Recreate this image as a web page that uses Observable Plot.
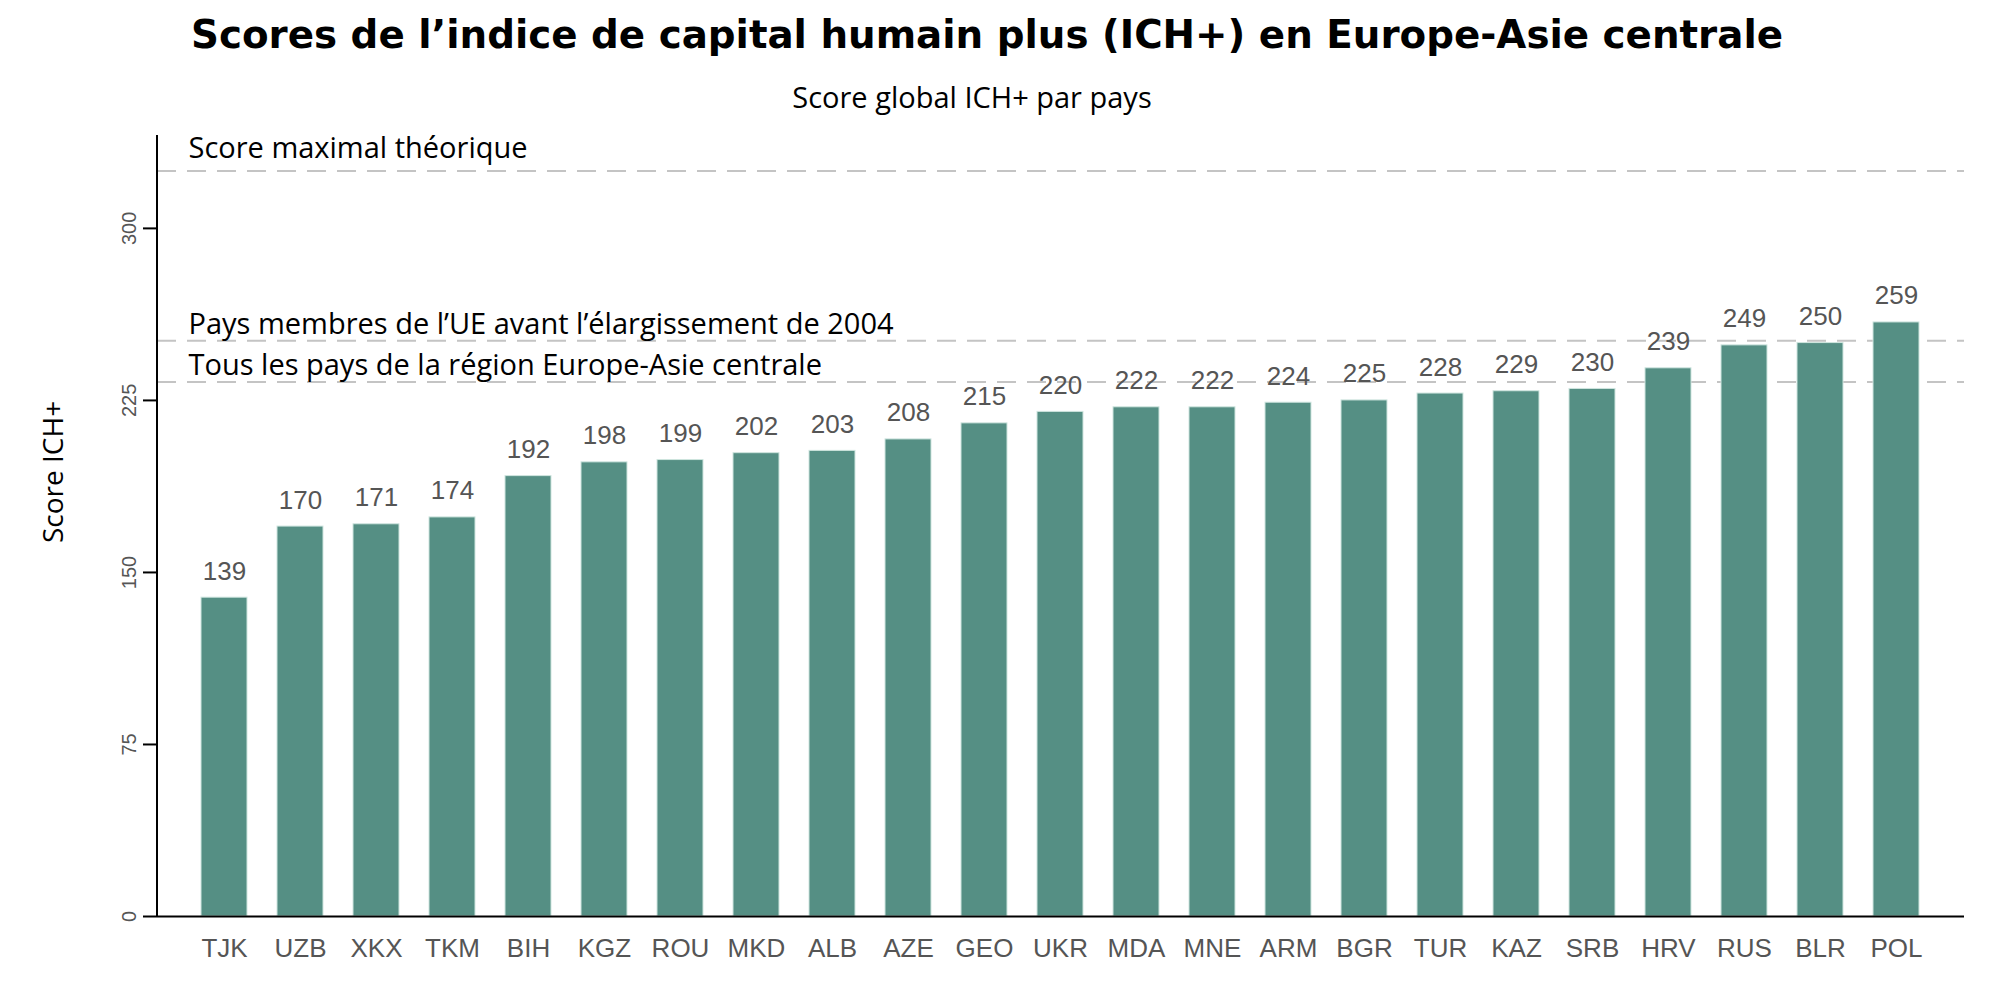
<!DOCTYPE html>
<html>
<head>
<meta charset="utf-8">
<script src="https://cdn.jsdelivr.net/npm/d3@7"></script>
<script src="https://cdn.jsdelivr.net/npm/@observablehq/plot@0.6"></script>
<style>
  html, body { margin: 0; padding: 0; background: #fff; }
  #wrap { position: relative; width: 2000px; height: 1000px; }
  #title { position: absolute; left: 0; top: 15px; width: 1974px; text-align: center;
    font-family: "DejaVu Sans", sans-serif; font-weight: bold;
    font-size: 38.8px; line-height: 40px; color: #000; white-space: nowrap; }
  #subtitle { position: absolute; left: 0; top: 83px; width: 1944px; text-align: center;
    font-family: "Open Sans", sans-serif; font-size: 29px; line-height: 27px; color: #000; white-space: nowrap; }
  #chart { position: absolute; left: 0; top: 0; }
</style>
</head>
<body>
<div id="wrap">
  <div id="chart"></div>
  <div id="title">Scores de l’indice de capital humain plus (ICH+) en Europe-Asie centrale</div>
  <div id="subtitle">Score global ICH+ par pays</div>
</div>
<script>
const countries = ["TJK","UZB","XKX","TKM","BIH","KGZ","ROU","MKD","ALB","AZE","GEO","UKR","MDA","MNE","ARM","BGR","TUR","KAZ","SRB","HRV","RUS","BLR","POL"];
const scores = [139,170,171,174,192,198,199,202,203,208,215,220,222,222,224,225,228,229,230,239,249,250,259];
const yTicks = [0,75,150,225,300];
const refLabels = ["Score maximal théorique","Pays membres de l’UE avant l’élargissement de 2004","Tous les pays de la région Europe-Asie centrale"];
const refValues = [325,251,233];

const data = countries.map((c, i) => ({country: c, score: scores[i]}));
const refs = refLabels.map((l, i) => ({label: l, value: refValues[i]}));

// vertical axis line along the left edge of the frame
function leftAxisLine(index, scales, values, dims) {
  const line = d3.create("svg:line")
    .attr("x1", dims.marginLeft).attr("x2", dims.marginLeft)
    .attr("y1", dims.marginTop).attr("y2", dims.height - dims.marginBottom)
    .attr("stroke", "#000").attr("stroke-width", 2);
  return line.node();
}

const chart = Plot.plot({
  width: 2000,
  height: 1000,
  marginLeft: 157,
  marginRight: 36,
  marginTop: 135,
  marginBottom: 84,
  style: {background: "transparent", overflow: "visible"},
  x: {domain: countries, range: [170, 1950], padding: 0.4},
  y: {domain: [0, 340.5]},
  marks: [
    Plot.ruleY(refs, {y: "value", stroke: "#c4c4c4", strokeWidth: 2, strokeDasharray: "19,11"}),
    Plot.barY(data, {x: "country", y: "score", fill: "#558f84", stroke: "#cfe5df", strokeWidth: 1}),
    Plot.text(refs.slice(0, 1), {y: "value", text: "label", frameAnchor: "left", dx: 31, dy: -13, textAnchor: "start", lineAnchor: "bottom", fontSize: 29, fontFamily: "Open Sans", fill: "#000"}),
    Plot.text(refs.slice(1), {y: "value", text: "label", frameAnchor: "left", dx: 31, dy: -7, textAnchor: "start", lineAnchor: "bottom", fontSize: 29, fontFamily: "Open Sans", fill: "#000"}),
    Plot.text(data, {x: "country", y: "score", text: d => String(d.score), dy: -18, lineAnchor: "bottom", fontSize: 26, fontFamily: "Liberation Sans, Arial", fill: "#555"}),
    Plot.ruleY([0], {stroke: "#000", strokeWidth: 2}),
    leftAxisLine,
    Plot.axisY({ticks: yTicks, tickSize: 14, tickRotate: -90, tickPadding: 8, fontSize: 20, fontFamily: "Liberation Sans, Arial", color: "#555", stroke: "#000", strokeWidth: 2, label: null}),
    Plot.axisX({tickSize: 0, tickPadding: 22, fontSize: 26, fontFamily: "Liberation Sans, Arial", fill: "#555", label: null}),
    Plot.text(["Score ICH+"], {frameAnchor: "left", dx: -103, dy: 17, rotate: -90, fontSize: 28, fontFamily: "Open Sans", fill: "#000"})
  ]
});
document.getElementById("chart").appendChild(chart);
</script>
</body>
</html>
